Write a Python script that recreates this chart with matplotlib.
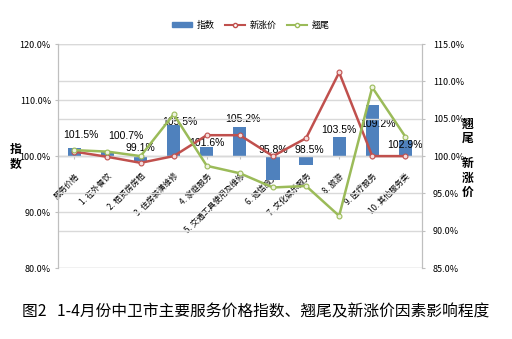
import numpy as np
import matplotlib.pyplot as plt
from matplotlib.patches import Patch
from matplotlib.lines import Line2D

plt.rcParams['font.family'] = ['Noto Sans CJK SC', 'DejaVu Sans']

categories = ["服务价格", "1. 在外餐饮", "2. 租赁房房租", "3. 住房装潢维修", "4. 家庭服务",
              "5. 交通工具使用及维修", "6. 通信服务", "7. 文化娱乐服务", "8. 旅游",
              "9. 医疗服务", "10. 其他服务类"]
index_vals = [101.5, 100.7, 99.1, 105.5, 101.6, 105.2, 95.8, 98.5, 103.5, 109.2, 102.9]
new_rise = [100.6, 99.9, 99.1, 100.0, 102.8, 102.8, 100.0, 102.4, 111.2, 100.0, 100.0]
carryover = [100.8, 100.6, 100.0, 105.6, 98.7, 97.7, 95.8, 96.0, 92.0, 109.2, 102.6]

# label nudges (style only)
label_dx = [0.2, 0.55, 0.0, 0.18, 0.0, 0.1, 0.0, 0.1, 0.0, 0.17, 0.0]
label_dy = [2.2, 2.9, 1.4, 0.6, 0.7, 1.4, 1.1, 1.1, 1.1, -3.5, -0.9]

blue = "#4F81BD"
red = "#C0504D"
green = "#9BBB59"
grid_c = "#d9d9d9"

fig = plt.figure(figsize=(5.12, 3.39), dpi=100)
ax = fig.add_axes([0.113, 0.209, 0.711, 0.661])
ax2 = ax.twinx()

x = np.arange(len(categories))
base = 100
ax.bar(x, np.array(index_vals) - base, bottom=base, width=0.4, color=blue, zorder=2)
ax.set_xlim(-0.5, len(categories) - 0.5)
ax.set_ylim(80, 120)
ax.set_yticks([80, 90, 100, 110, 120])
ax.set_yticklabels([f"{v:.1f}%" for v in [80, 90, 100, 110, 120]], fontsize=6.5)
ax.yaxis.grid(True, color=grid_c, lw=1, zorder=0)
ax.set_axisbelow(True)

for i, v in enumerate(index_vals):
    ax.text(i + label_dx[i], max(v, base) + label_dy[i], f"{v}%", ha="center", va="center",
            fontsize=7.5, family=["Liberation Sans"], zorder=5)

ax2.plot(x, new_rise, color=red, lw=1.8, marker="o", ms=3.5, mfc="#f4dcdc", mec=red, mew=0.8, zorder=3)
ax2.plot(x, carryover, color=green, lw=1.8, marker="o", ms=3.5, mfc="#eef3e0", mec=green, mew=0.8, zorder=3)
ax2.set_ylim(85, 115)
ax2.set_yticks([85, 90, 95, 100, 105, 110, 115])
ax2.set_yticklabels([f"{v:.1f}%" for v in [85, 90, 95, 100, 105, 110, 115]], fontsize=6.5)
ax2.yaxis.grid(True, color=grid_c, lw=1, zorder=0)
ax2.set_zorder(ax.get_zorder() + 1)
ax2.patch.set_visible(False)

# category axis crosses at 100%
ax.spines['bottom'].set_position(('data', 100))
ax.spines['bottom'].set_color("#bfbfbf")
ax.set_xticks(x)
ax.set_xticklabels(categories, rotation=45, ha="right", rotation_mode="anchor", fontsize=5.8)
ax.tick_params(axis="x", length=2, color="#bfbfbf", pad=9)
ax.tick_params(axis="y", length=2, color="#bfbfbf", pad=3)
ax2.tick_params(axis="y", length=2, color="#bfbfbf", pad=6)
for a in (ax, ax2):
    a.spines['top'].set_visible(False)
    a.spines['left'].set_color("#bfbfbf")
    a.spines['right'].set_color("#bfbfbf")
ax2.spines['bottom'].set_visible(False)

fig.text(0.03, 0.537, "指\n数", ha="center", va="center", fontsize=8.5, fontweight="bold", linespacing=1.1)
fig.text(0.913, 0.614, "翘\n尾", ha="center", va="center", fontsize=8.5, fontweight="bold", linespacing=1.1)
fig.text(0.913, 0.475, "新\n涨\n价", ha="center", va="center", fontsize=8.5, fontweight="bold", linespacing=1.1)

handles = [Patch(color=blue),
           Line2D([], [], color=red, lw=1.5, marker="o", ms=3, mfc="white", mec=red),
           Line2D([], [], color=green, lw=1.5, marker="o", ms=3, mfc="white", mec=green)]
fig.legend(handles, ["指数", "新涨价", "翘尾"], loc="center", bbox_to_anchor=(0.49, 0.926),
           ncol=3, frameon=False, fontsize=6.5, handlelength=2.2, handleheight=0.5,
           columnspacing=1.2, handletextpad=0.5)

fig.text(0.5, 0.08, "图2   1-4月份中卫市主要服务价格指数、翘尾及新涨价因素影响程度",
         ha="center", va="center", fontsize=11.3)

fig.savefig("out.png", dpi=100)
